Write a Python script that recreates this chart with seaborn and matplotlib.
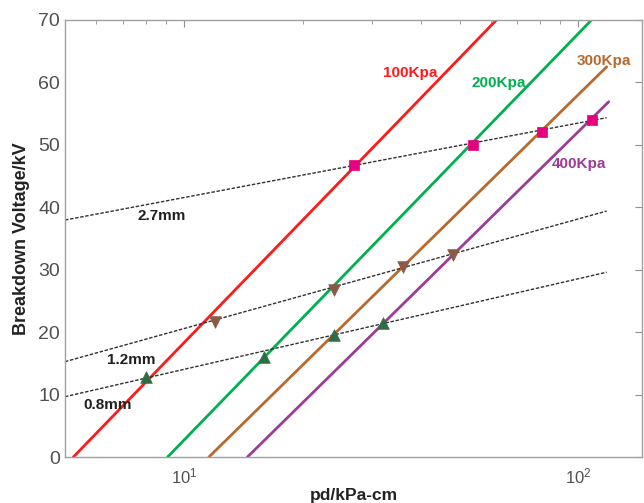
import matplotlib
matplotlib.use("Agg")
import matplotlib.pyplot as plt
import matplotlib.ticker as mticker
import numpy as np
import pandas as pd
import seaborn as sns

# ---- data ----
pressures = ["100Kpa", "200Kpa", "300Kpa", "400Kpa"]
p_colors = ["#ff1a1a", "#00b050", "#b8692e", "#9b3d96"]
# each pressure line: start/end pd (kPa-cm) and breakdown voltage (kV)
p_x_start = [5.25, 9.10, 11.58, 14.5]
p_x_end = [62.0, 108.0, 118.0, 119.4]
p_v_start = [0.0, 0.0, 0.0, 0.0]
p_v_end = [70.0, 70.0, 62.5, 56.9]

gaps = ["2.7mm", "1.2mm", "0.8mm"]
g_x_start = [5.0, 5.0, 5.0]
g_x_end = [118.0, 118.0, 118.0]
g_v_start = [37.96, 15.27, 9.66]
g_v_end = [54.35, 39.4, 29.6]

# intersection markers
m27_x = [27, 54, 81, 108]
m27_v = [46.7, 50.0, 52.1, 54.0]
m12_x = [12, 24, 36, 48]
m12_v = [21.7, 26.8, 30.4, 32.4]
m08_x = [8, 16, 24, 32]
m08_v = [12.8, 16.0, 19.5, 21.4]

y_ticks = [0, 10, 20, 30, 40, 50, 60, 70]

sns.set_style("white")
plt.rcParams["font.family"] = ["Liberation Sans", "DejaVu Sans"]
plt.rcParams["mathtext.fontset"] = "custom"
plt.rcParams["mathtext.rm"] = "Liberation Sans"

fig = plt.figure(figsize=(6.44, 5.03), dpi=100)
ax = fig.add_axes([65 / 644, 1 - 457 / 503, (642 - 65) / 644, (457 - 20) / 503])

# pressure lines
rows = []
for name, xs, xe, vs, ve in zip(pressures, p_x_start, p_x_end, p_v_start, p_v_end):
    rows.append({"series": name, "pd": xs, "V": vs})
    rows.append({"series": name, "pd": xe, "V": ve})
df_p = pd.DataFrame(rows)
sns.lineplot(data=df_p, x="pd", y="V", hue="series", palette=p_colors,
             hue_order=pressures, linewidth=2.0, legend=False, ax=ax,
             estimator=None, sort=False)

# gap lines
rows = []
for name, xs, xe, vs, ve in zip(gaps, g_x_start, g_x_end, g_v_start, g_v_end):
    rows.append({"series": name, "pd": xs, "V": vs})
    rows.append({"series": name, "pd": xe, "V": ve})
df_g = pd.DataFrame(rows)
for name in gaps:
    sub = df_g[df_g.series == name]
    sns.lineplot(data=sub, x="pd", y="V", color="#303030", linewidth=1.0,
                 linestyle=(0, (2.5, 1.2)), legend=False, ax=ax,
                 estimator=None, sort=False)

# markers
sns.scatterplot(x=m27_x, y=m27_v, marker="s", s=48, color="#e6007e",
                edgecolor="#e6007e", linewidth=0.5, ax=ax, zorder=5)
sns.scatterplot(x=m12_x, y=m12_v, marker="v", s=70, color="#8a5a45",
                edgecolor="#8a5a45", linewidth=0.5, ax=ax, zorder=5)
sns.scatterplot(x=m08_x, y=m08_v, marker="^", s=70, color="#2e6e45",
                edgecolor="#2e6e45", linewidth=0.5, ax=ax, zorder=5)

ax.set_xscale("log")
ax.set_xlim(5, 145)
ax.set_ylim(0, 70)
ax.set_yticks(y_ticks)
ax.xaxis.set_major_locator(mticker.LogLocator(base=10))
ax.xaxis.set_minor_locator(mticker.LogLocator(base=10, subs=np.arange(2, 10)))
ax.xaxis.set_minor_formatter(mticker.NullFormatter())

for s in ax.spines.values():
    s.set_color("#a0a0a0")
    s.set_linewidth(1.0)
ax.tick_params(axis="both", which="both", direction="in", top=True, right=True,
               colors="#909090", labelcolor="#505050")
ax.tick_params(axis="both", which="major", length=5, labelsize=14)
ax.tick_params(axis="both", which="minor", length=3)
ax.tick_params(axis="x", which="major", labelsize=12, pad=7)

ax.set_xlabel("pd/kPa-cm", fontsize=12.5, fontweight="bold", color="#222222", labelpad=1)
ax.set_ylabel("Breakdown Voltage/kV", fontsize=13, fontweight="bold", color="#222222", labelpad=6)

# annotations
ax.text(0.551, 0.878, "100Kpa", transform=ax.transAxes, color=p_colors[0],
        fontsize=11, fontweight="bold", ha="left", va="center")
ax.text(0.705, 0.855, "200Kpa", transform=ax.transAxes, color=p_colors[1],
        fontsize=11, fontweight="bold", ha="left", va="center")
ax.text(0.887, 0.906, "300Kpa", transform=ax.transAxes, color=p_colors[2],
        fontsize=11, fontweight="bold", ha="left", va="center")
ax.text(0.844, 0.671, "400Kpa", transform=ax.transAxes, color=p_colors[3],
        fontsize=11, fontweight="bold", ha="left", va="center")
ax.text(0.125, 0.552, "2.7mm", transform=ax.transAxes, color="#202020",
        fontsize=11, fontweight="bold", ha="left", va="center")
ax.text(0.073, 0.222, "1.2mm", transform=ax.transAxes, color="#202020",
        fontsize=11, fontweight="bold", ha="left", va="center")
ax.text(0.031, 0.119, "0.8mm", transform=ax.transAxes, color="#202020",
        fontsize=11, fontweight="bold", ha="left", va="center")

fig.savefig("out.png", dpi=100)
